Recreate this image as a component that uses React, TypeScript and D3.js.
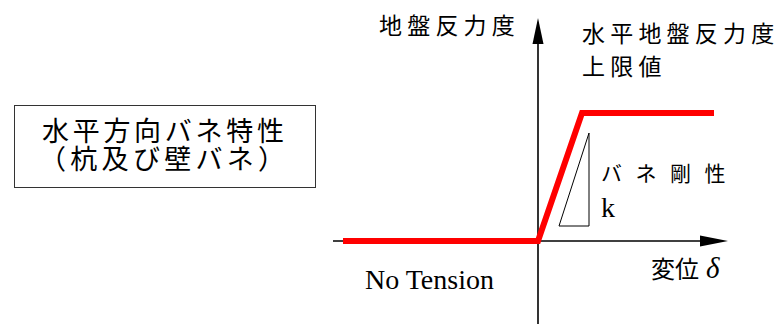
import React from 'react'
import { scaleLinear, line } from 'd3'

// spring curve: displacement vs ground reaction (arbitrary units)
const delta = [-195, 0, 44, 176]
const reaction = [0, 0, 128, 128]

// stiffness triangle
const triDelta = [51, 21, 51]
const triReaction = [108, 15, 15]

const xAxisRange = [-205, 190]
const yAxisRange = [-83, 223]

const boxLines = ['水平方向バネ特性', '（杭及び壁バネ）']
const jpFont = '"Noto Sans CJK JP", "Noto Sans", sans-serif'
const serif = '"Liberation Serif", "DejaVu Serif", serif'

const App = () => {
  const width = 780
  const height = 324

  const x = scaleLinear().domain(xAxisRange).range([333, 728])
  const y = scaleLinear().domain(yAxisRange).range([324, 18])

  const pts: [number, number][] = delta.map((d, i) => [x(d), y(reaction[i])])
  const tri: [number, number][] = triDelta.map((d, i) => [x(d), y(triReaction[i])])
  const path = line()

  const x0 = x(0)
  const y0 = y(0)
  const xEnd = x(xAxisRange[1])
  const yEnd = y(yAxisRange[1])

  return (
    <svg width={width} height={height} style={{ position: 'absolute', left: 0, top: 0 }}>
      <rect width={width} height={height} fill="#fff" />

      {/* left box, two-line title in one text block */}
      <rect x={14.5} y={105.5} width={301} height={82} fill="none" stroke="#333" strokeWidth={1} />
      <text fontFamily={jpFont} fontSize={27} fill="#000">
        {boxLines.map((t, i) => (
          <tspan key={i} x={i === 0 ? 42 : 39} y={141 + i * 28} letterSpacing={i === 0 ? 3.7 : 4.3}>{t}</tspan>
        ))}
      </text>

      {/* axes */}
      <line x1={x(xAxisRange[0])} y1={y0} x2={xEnd - 20} y2={y0} stroke="#000" strokeWidth={1.6} />
      <path d={`M${xEnd},${y0} L${xEnd - 28},${y0 - 5.5} L${xEnd - 28},${y0 + 5.5} Z`} fill="#000" />
      <line x1={x0} y1={y(yAxisRange[0])} x2={x0} y2={yEnd + 20} stroke="#000" strokeWidth={1.6} />
      <path d={`M${x0},${yEnd} L${x0 - 5.5},${yEnd + 26} L${x0 + 5.5},${yEnd + 26} Z`} fill="#000" />

      {/* spring curve */}
      <path d={path(pts) || ''} fill="none" stroke="#ff0000" strokeWidth={6} strokeLinejoin="miter" />

      {/* stiffness triangle */}
      <path d={(path(tri) || '') + 'Z'} fill="none" stroke="#000" strokeWidth={1} />

      {/* labels */}
      <text x={379} y={34} fontFamily={jpFont} fontSize={23} letterSpacing={5.2} fill="#000">地盤反力度</text>
      <text x={582} y={42} fontFamily={jpFont} fontSize={23} letterSpacing={5.2} fill="#000">水平地盤反力度</text>
      <text x={582} y={75} fontFamily={jpFont} fontSize={23} letterSpacing={5.2} fill="#000">上限値</text>
      <text x={601} y={181} fontFamily={jpFont} fontSize={21} letterSpacing={13.5} fill="#000">バネ剛性</text>
      <text x={601} y={217} fontFamily={serif} fontSize={28} fill="#000">k</text>
      <text x={651} y={278} fontFamily={jpFont} fontSize={24} fill="#000">変位<tspan fontFamily={serif} fontStyle="italic" fontSize={29} dx={7}>δ</tspan></text>
      <text x={365} y={289} fontFamily={serif} fontSize={28} fill="#000">No Tension</text>
    </svg>
  )
}

export default App
